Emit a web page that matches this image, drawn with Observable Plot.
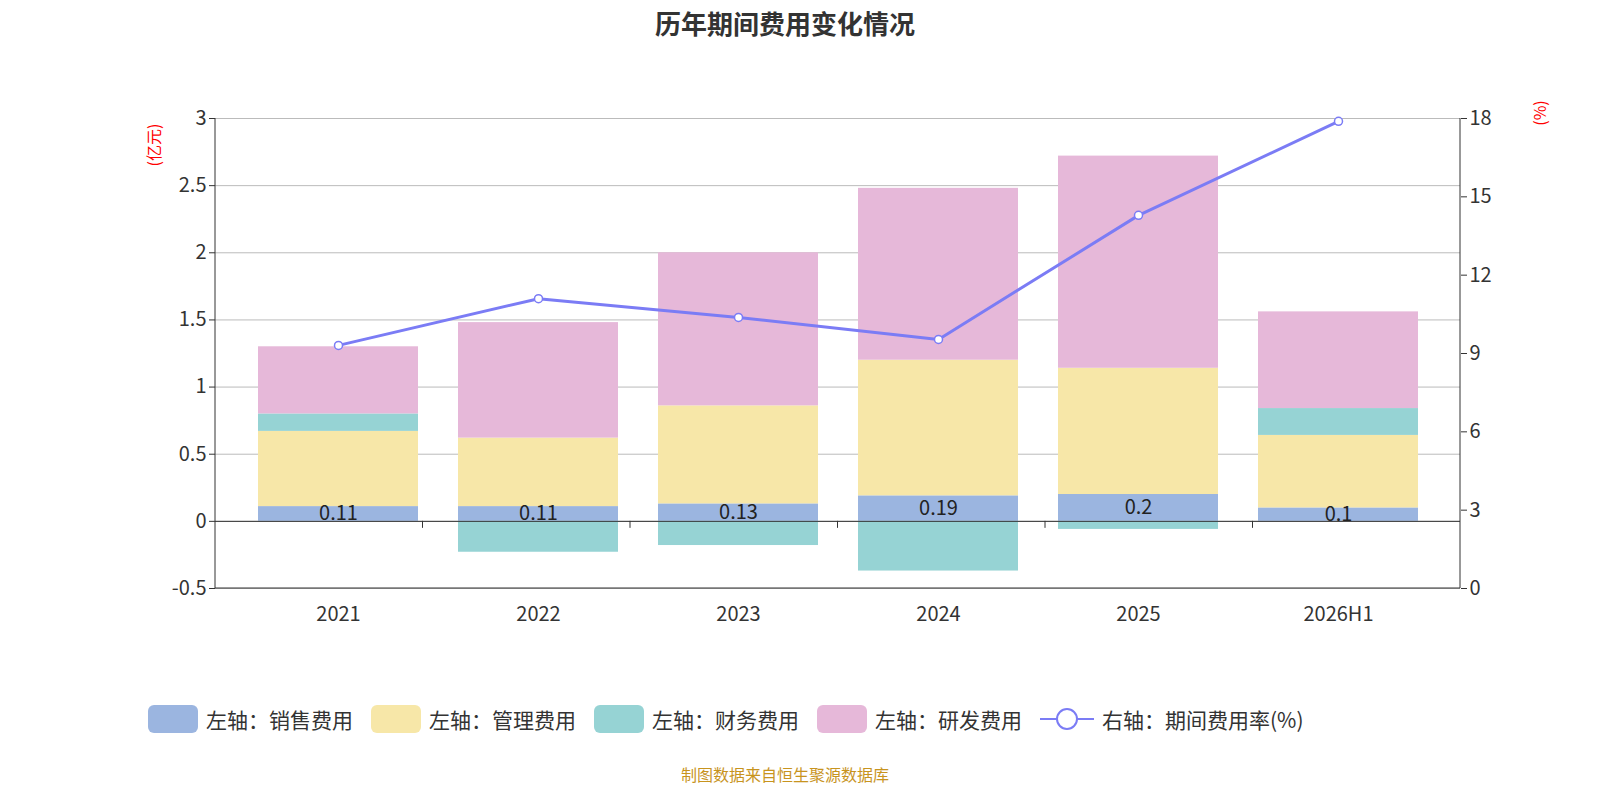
<!DOCTYPE html>
<html><head><meta charset="utf-8">
<script src="https://cdn.jsdelivr.net/npm/d3@7"></script>
<script src="https://cdn.jsdelivr.net/npm/@observablehq/plot@0.6"></script>
<style>
html,body{overflow:hidden}
body{margin:0;width:1600px;height:800px;background:#fff;font-family:"Noto Sans CJK SC","Noto Sans",sans-serif;position:relative}
#title{position:absolute;top:4px;width:1570px;text-align:center;font-size:26px;font-weight:bold;color:#333}
#chart{position:absolute;top:50px;left:0;width:1600px}
#chart svg{max-width:none}
#legend{position:absolute;top:704px;left:148px;display:flex;gap:0;font-size:21px;color:#333;align-items:center}
.it{display:flex;align-items:center;margin-right:18px}
.sw{width:50px;height:28px;border-radius:6px;margin-right:8px}
#cap{position:absolute;top:762px;width:1570px;text-align:center;font-size:16px;color:#c8941e}
</style></head><body>
<div id="title">历年期间费用变化情况</div>
<div id="chart"></div>
<div id="legend"></div>
<div id="cap">制图数据来自恒生聚源数据库</div>
<script>
const years=["2021","2022","2023","2024","2025","2026H1"];
const sales=[0.11,0.11,0.13,0.19,0.2,0.1];
const mgmt=[0.56,0.51,0.73,1.01,0.94,0.54];
const fin=[0.13,-0.23,-0.18,-0.37,-0.06,0.20];
const rnd=[0.50,0.86,1.14,1.28,1.58,0.72];
const rate=[9.31,11.1,10.38,9.54,14.29,17.89];
const seriesNames=["左轴：销售费用","左轴：管理费用","左轴：财务费用","左轴：研发费用"];
const colors=["#9bb5e0","#f7e7a8","#96d3d4","#e6b8d9"];
const lineColor="#7b7cf5";
const leftTicks=[-0.5,0,0.5,1,1.5,2,2.5,3];
const rightTicks=[0,3,6,9,12,15,18];
const toLeft=r=>-0.5+r*3.5/18;
const rows=[];
[sales,mgmt,fin,rnd].forEach((arr,i)=>arr.forEach((v,j)=>rows.push({year:years[j],s:seriesNames[i],v})));
const rr=years.map((y,i)=>({year:y,v:toLeft(rate[i])}));
const lab=years.map((y,i)=>({year:y,v:sales[i]/2,t:String(sales[i])}));
const plot=Plot.plot({
 width:1600,height:610,marginLeft:215,marginRight:140,marginTop:68,marginBottom:72,
 style:{fontSize:"20px",fontFamily:"Noto Sans CJK SC, Noto Sans, sans-serif",color:"#333",maxWidth:"none"},
 x:{domain:years,padding:0.2,label:null},
 y:{domain:[-0.5,3],label:null},
 color:{domain:seriesNames,range:colors},
 marks:[
  Plot.gridY(leftTicks,{stroke:"#bbb",strokeOpacity:1}),
  Plot.barY(rows,{x:"year",y:"v",fill:"s",order:seriesNames}),
  Plot.ruleY([0],{stroke:"#333"}),
  Plot.axisY(leftTicks,{anchor:"left",tickSize:6,tickFormat:d=>String(d),fontSize:20,label:null}),
  Plot.axisY(rightTicks.map(toLeft),{anchor:"right",tickSize:6,tickFormat:d=>String(Math.round((d+0.5)*18/3.5)),fontSize:20,label:null}),
  Plot.axisX({tickSize:0,fontSize:20,tickPadding:18,label:null}),
  Plot.line(rr,{x:"year",y:"v",stroke:lineColor,strokeWidth:3}),
  Plot.dot(rr,{x:"year",y:"v",r:4,fill:"#fff",stroke:lineColor,strokeWidth:1.5}),
  Plot.text(lab,{x:"year",y:"v",text:"t",fontSize:20,fill:"#222"})
 ]
});
const svg=d3.select(plot);
const xs=plot.scale("x"), ys=plot.scale("y");
const y0=ys.apply(0);
const step=(1460-215)/years.length;
for(let k=1;k<years.length;k++){const x=215+k*step;svg.append("line").attr("x1",x).attr("x2",x).attr("y1",y0).attr("y2",y0+7).attr("stroke","#333");}
svg.append("line").attr("x1",215).attr("x2",215).attr("y1",68).attr("y2",538).attr("stroke","#333");
svg.append("line").attr("x1",1460).attr("x2",1460).attr("y1",68).attr("y2",538).attr("stroke","#333");
svg.append("line").attr("x1",215).attr("x2",1460).attr("y1",538).attr("y2",538).attr("stroke","#333");
svg.append("text").attr("transform","translate(160,95) rotate(-90)").attr("text-anchor","middle").attr("fill","red").attr("font-size",16).text("(亿元)");
svg.append("text").attr("transform","translate(1546,63) rotate(-90)").attr("text-anchor","middle").attr("fill","red").attr("font-size",16).text("(%)");
document.getElementById("chart").appendChild(plot);
const lg=document.getElementById("legend");
seriesNames.forEach((n,i)=>{lg.innerHTML+=`<div class="it"><div class="sw" style="background:${colors[i]}"></div>${n}</div>`;});
lg.innerHTML+=`<div class="it"><svg width="54" height="28" style="margin-right:8px"><line x1="0" x2="54" y1="14" y2="14" stroke="${lineColor}" stroke-width="2"/><circle cx="27" cy="14" r="10" fill="#fff" stroke="${lineColor}" stroke-width="2"/></svg>右轴：期间费用率(%)</div>`;
</script></body></html>
